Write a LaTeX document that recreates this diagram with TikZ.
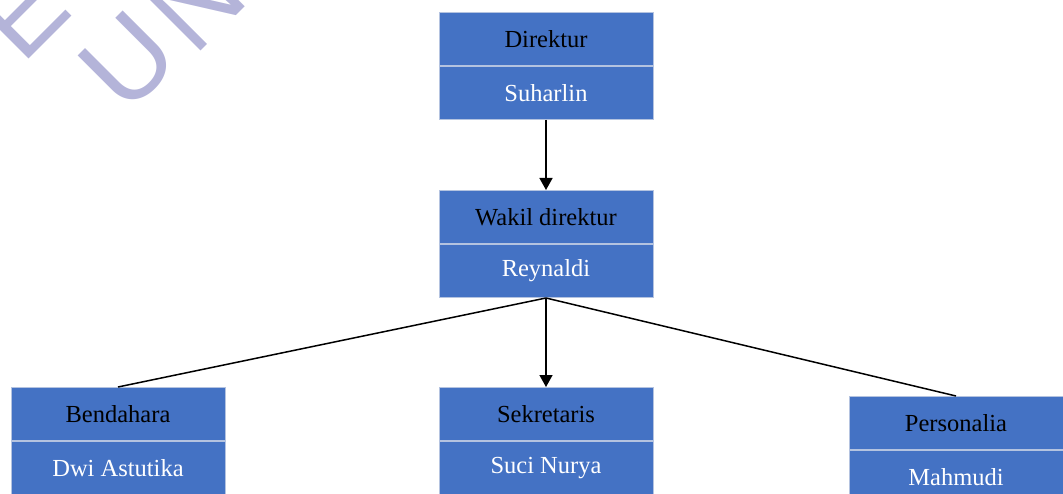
\documentclass[tikz,border=0pt]{standalone}
\usepackage{fontspec}
\setmainfont{Liberation Serif}
\newfontfamily\wmfont{Liberation Sans}
\usetikzlibrary{arrows.meta}
\definecolor{boxblue}{HTML}{4472C4}
\definecolor{boxline}{HTML}{B4C3E0}
\definecolor{wmcol}{RGB}{180,180,217}
\begin{document}
\begin{tikzpicture}[x=1pt,y=-1pt,
  cell/.style={draw=boxline, line width=1pt, fill=boxblue, minimum width=214pt,
    minimum height=53pt, inner sep=0pt, font=\fontsize{24.5}{27}\selectfont},
  toptxt/.style={cell, text=black, anchor=north},
  bottxt/.style={cell, text=white, anchor=north},
  wm/.style={text=wmcol, font=\wmfont\fontsize{112}{112}\selectfont, inner sep=0pt, rotate=45},
  conn/.style={line width=1.5pt},
  arr/.style={conn, -{Triangle[length=12pt,width=13pt]}}]
\useasboundingbox (0,0) rectangle (1063,494);
% watermark
\node[wm] (wmE) at (22,12) {E};
\node[wm] (wmU) at (128,61) {U};
\node[wm] (wmN) at (196,2) {N};
% boxes
\node[toptxt] (d1) at (546,12) {Direktur};
\node[bottxt] (d2) at (d1.south) {Suharlin};
\node[toptxt] (w1) at (546,190) {Wakil direktur};
\node[bottxt] (w2) at (w1.south) {Reynaldi};
\node[toptxt] (b1) at (118,387) {Bendahara};
\node[bottxt] (b2) at (b1.south) {Dwi Astutika};
\node[toptxt] (s1) at (546,387) {Sekretaris};
\node[bottxt] (s2) at (s1.south) {Suci Nurya};
\node[toptxt] (p1) at (956,396) {Personalia};
\node[bottxt] (p2) at (p1.south) {Mahmudi};
% connectors
\draw[arr] (d2.south) -- (w1.north);
\draw[arr] (w2.south) -- (s1.north);
\draw[conn] (w2.south) -- (b1.north);
\draw[conn] (w2.south) -- (p1.north);
\end{tikzpicture}
\end{document}
